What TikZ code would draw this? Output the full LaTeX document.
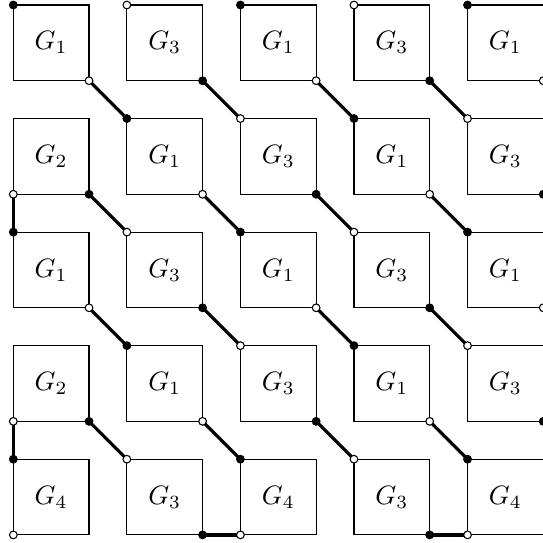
\documentclass[tikz,border=0pt]{standalone}
\begin{document}
\begin{tikzpicture}[
  sq/.style={draw, line width=0.4pt, minimum size=1cm, inner sep=0pt, outer sep=0pt},
  conn/.style={line width=1.2pt},
  dot/.style={circle, fill=#1, draw=black, line width=0.4pt, inner sep=0pt, minimum size=2.9pt}]
\useasboundingbox (-0.176,-7.094) rectangle (6.997,0.066);
% squares
\foreach \lab [count=\k from 0] in {1,3,1,3,1, 2,1,3,1,3, 1,3,1,3,1, 2,1,3,1,3, 4,3,4,3,4}{
  \pgfmathtruncatemacro\i{mod(\k,5)}
  \pgfmathtruncatemacro\j{div(\k,5)}
  \node[sq] (s\i\j) at (1.5*\i+0.5,-1.5*\j-0.5) {$G_{\lab}$};
}
% diagonal connectors
\foreach \i in {0,...,3}{
  \foreach \j in {0,...,3}{
    \pgfmathtruncatemacro\ii{\i+1}
    \pgfmathtruncatemacro\jj{\j+1}
    \draw[conn] (s\i\j.south east) -- (s\ii\jj.north west);
  }
}
% vertical and horizontal connectors
\draw[conn] (s01.south west) -- (s02.north west);
\draw[conn] (s03.south west) -- (s04.north west);
\draw[conn] (s14.south east) -- (s24.south west);
\draw[conn] (s34.south east) -- (s44.south west);
% dots
\foreach \i in {0,...,4}{
  \foreach \j in {0,...,4}{
    \pgfmathtruncatemacro\pp{mod(\i+\j,2)}
    \ifnum\pp=0 \def\tlc{black}\def\brc{white}\else \def\tlc{white}\def\brc{black}\fi
    \pgfmathtruncatemacro\skiptl{(\i==0)&&(mod(\j,2)==1)}
    \ifnum\skiptl=0
      \node[dot=\tlc] (t\i\j) at (s\i\j.north west) {};
    \fi
    \pgfmathtruncatemacro\dobr{(\j<4)||(mod(\i,2)==1)}
    \ifnum\dobr=1
      \node[dot=\brc] (b\i\j) at (s\i\j.south east) {};
    \fi
  }
}
\node[dot=white] (l01) at (s01.south west) {};
\node[dot=white] (l03) at (s03.south west) {};
\node[dot=white] (l04) at (s04.south west) {};
\node[dot=white] (l24) at (s24.south west) {};
\node[dot=white] (l44) at (s44.south west) {};
\end{tikzpicture}
\end{document}
